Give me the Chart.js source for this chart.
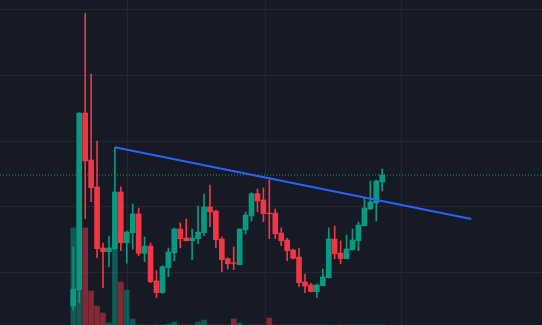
<!DOCTYPE html>
<html>
<head>
<meta charset="utf-8">
<script src="https://cdn.jsdelivr.net/npm/chart.js@4.4.1/dist/chart.umd.min.js"></script>
<style>
  html, body { margin: 0; padding: 0; background: #161a25; overflow: hidden; }
  #chart { display: block; }
</style>
</head>
<body>
<canvas id="chart" width="542" height="325"></canvas>
<script>
// candle data, one entry per bar
const opens = [5.00, 7.42, 34.24, 27.12, 23.03, 13.79, 13.23, 13.68, 22.27, 14.59, 16.11, 18.94, 12.98, 14.09, 8.79, 7.02, 10.80, 13.08, 16.67, 15.30, 14.89, 15.20, 16.11, 20.00, 19.39, 15.15, 12.17, 11.55, 11.26, 16.52, 18.64, 22.02, 21.06, 19.09, 19.09, 16.06, 15.00, 13.48, 12.42, 8.64, 8.18, 7.17, 8.08, 9.29, 15.15, 13.03, 12.17, 13.53, 14.89, 17.17, 19.70, 20.61, 23.79];
const highs = [13.94, 34.30, 49.35, 40.15, 30.00, 14.55, 15.61, 29.05, 23.03, 16.36, 20.45, 19.85, 15.45, 14.55, 10.35, 11.11, 13.79, 16.82, 17.58, 18.18, 16.67, 20.15, 21.97, 23.33, 19.55, 15.45, 12.32, 13.94, 16.70, 19.24, 22.17, 22.73, 22.88, 24.09, 19.70, 16.82, 15.30, 13.64, 13.79, 9.85, 8.48, 8.33, 10.61, 16.82, 17.12, 14.85, 15.76, 16.67, 17.73, 21.36, 23.94, 24.09, 25.76];
const lows = [4.39, 5.45, 18.23, 20.80, 12.32, 7.77, 10.95, 13.48, 13.38, 11.47, 13.59, 12.62, 11.71, 8.53, 6.26, 6.89, 9.44, 11.82, 13.83, 14.85, 12.02, 14.44, 15.65, 17.02, 13.83, 10.20, 10.61, 10.50, 11.21, 15.91, 17.88, 19.24, 17.77, 15.20, 15.20, 14.14, 11.86, 12.12, 7.92, 7.02, 7.12, 6.26, 8.03, 9.24, 12.17, 11.41, 12.12, 13.48, 13.38, 17.12, 19.62, 17.88, 22.42];
const closes = [7.58, 34.24, 26.97, 22.92, 13.68, 13.23, 13.79, 22.27, 14.59, 16.21, 18.94, 12.98, 14.09, 8.68, 7.02, 10.95, 13.18, 16.67, 15.20, 14.89, 15.30, 16.21, 20.00, 19.24, 15.05, 12.02, 11.41, 11.44, 16.67, 18.79, 22.02, 20.91, 18.98, 18.98, 15.95, 14.89, 13.38, 12.23, 8.53, 8.03, 7.17, 8.18, 9.39, 15.15, 12.92, 12.17, 13.64, 15.00, 17.27, 19.85, 20.76, 23.94, 24.85];
const volumes = [970, 1650, 970, 340, 190, 120, 20, 900, 430, 350, 60, 0, 0, 0, 0, 0, 10, 30, 0, 0, 0, 30, 50, 0, 0, 0, 0, 60, 20, 0, 0, 0, 0, 70, 0, 0, 0, 0, 0, 0, 0, 0, 0, 0, 0, 0, 0, 0, 0, 0, 0, 0, 0];

// trend line drawn on the chart (bar index, price)
const trendX = [7, 67];
const trendY = [29.05, 18.18];

// grid levels
const priceGrid = [10, 20, 30, 40, 50];
const timeGrid = [9.2, 32.3, 55.3];

const upColor = '#089981';
const downColor = '#f23645';
const upVol = 'rgba(8, 153, 129, 0.5)';
const downVol = 'rgba(242, 54, 69, 0.5)';

const xMin = -12.34;
const xMax = 78.9;

const isUp = closes.map((c, i) => c >= opens[i]);
const lastClose = closes[closes.length - 1];

const bodies = opens.map((o, i) => ({ x: i, y: [o, closes[i]] }));
const wicks = lows.map((l, i) => ({ x: i, y: [l, highs[i]] }));
const vols = volumes.map((v, i) => ({ x: i, y: v }));

const ctx = document.getElementById('chart');

new Chart(ctx, {
  type: 'bar',
  data: {
    datasets: [
      {
        type: 'line',
        data: trendX.map((x, i) => ({ x, y: trendY[i] })),
        borderColor: '#2962ff',
        borderWidth: 2,
        pointRadius: 0
      },
      {
        data: bodies,
        backgroundColor: isUp.map(u => u ? upColor : downColor),
        barThickness: 5,
        grouped: false
      },
      {
        data: wicks,
        backgroundColor: isUp.map(u => u ? upColor : downColor),
        barThickness: 1,
        grouped: false
      },
      {
        type: 'line',
        data: [{ x: xMin, y: lastClose }, { x: xMax, y: lastClose }],
        borderColor: upColor,
        borderWidth: 1,
        borderDash: [1, 2],
        pointRadius: 0
      },
      {
        data: vols,
        yAxisID: 'vol',
        backgroundColor: isUp.map(u => u ? upVol : downVol),
        barThickness: 5,
        grouped: false
      }
    ]
  },
  options: {
    responsive: false,
    animation: false,
    layout: { padding: 0 },
    plugins: {
      legend: { display: false },
      tooltip: { enabled: false }
    },
    scales: {
      x: {
        type: 'linear',
        min: xMin,
        max: xMax,
        offset: false,
        grid: { color: '#232733', offset: false, drawTicks: false },
        border: { display: false },
        ticks: { display: false },
        afterBuildTicks: axis => { axis.ticks = timeGrid.map(v => ({ value: v })); }
      },
      y: {
        min: 2.121,
        max: 51.364,
        grid: { color: '#232733', drawTicks: false },
        border: { display: false },
        ticks: { display: false },
        afterBuildTicks: axis => { axis.ticks = priceGrid.map(v => ({ value: v })); }
      },
      vol: {
        display: false,
        min: 0,
        max: 3250
      }
    }
  }
});
</script>
</body>
</html>
